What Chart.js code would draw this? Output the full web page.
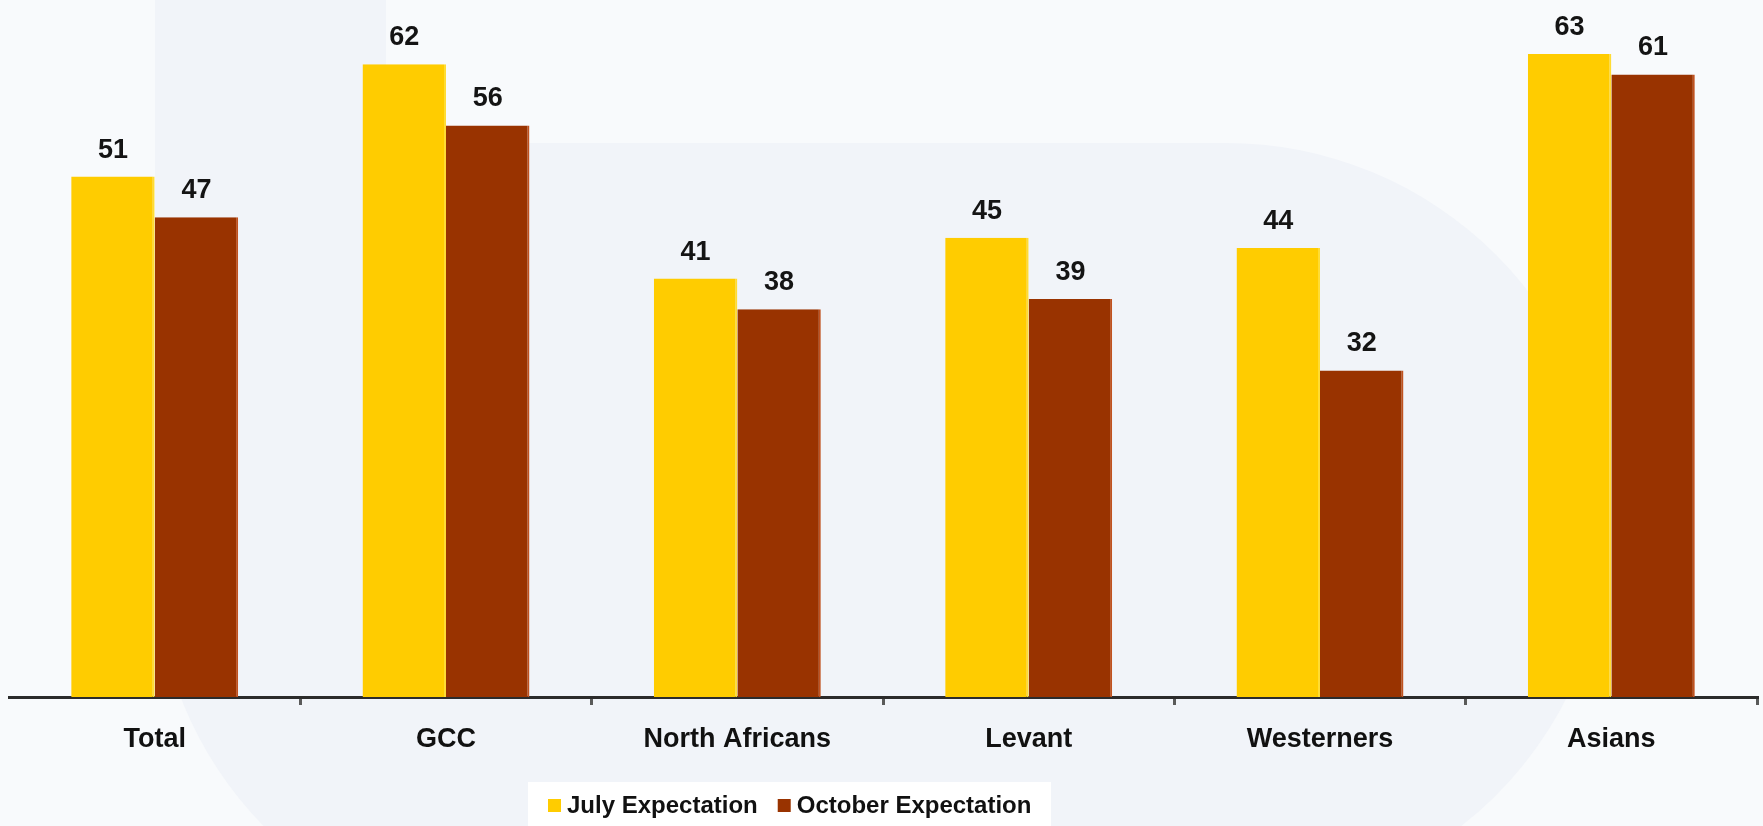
<!DOCTYPE html>
<html>
<head>
<meta charset="utf-8">
<title>July vs October Expectation</title>
<script src="https://cdn.jsdelivr.net/npm/chart.js@4"></script>
<style>
    html, body { margin: 0; padding: 0; background: #F8FAFC; }
    #verwachtingGrafiek { display: block; }
</style>
</head>
<body>
<canvas id="verwachtingGrafiek" width="1763" height="826"></canvas>
<script>
const groepen = ["Total", "GCC", "North Africans", "Levant", "Westerners", "Asians"];
const juliWaarden = [51, 62, 41, 45, 44, 63];
const oktoberWaarden = [47, 56, 38, 39, 32, 61];
const reeksNamen = ["July Expectation", "October Expectation"];

const lettertype = '"Liberation Sans", Arial, sans-serif';

// lichte achtergrond met een iets donkerder vlak erachter
const achtergrond = {
    id: "achtergrond",
    beforeDraw(chart) {
        const { ctx, width, height } = chart;
        ctx.save();
        ctx.fillStyle = "#F8FAFC";
        ctx.fillRect(0, 0, width, height);

        ctx.fillStyle = "#F1F4F9";
        ctx.beginPath();
        ctx.moveTo(155, 0);
        ctx.lineTo(386, 0);
        ctx.lineTo(386, 143);
        ctx.lineTo(1226, 143);
        ctx.arc(1226, 525, 382, -Math.PI / 2, Math.asin(301 / 382));
        ctx.lineTo(318, height);
        ctx.arc(535, 560, 380, Math.PI - Math.asin(266 / 380), Math.PI);
        ctx.closePath();
        ctx.fill();
        ctx.restore();
    }
};

// waarden boven de staven
const staafLabels = {
    id: "staafLabels",
    afterDatasetsDraw(chart) {
        const { ctx } = chart;
        ctx.save();
        ctx.font = "bold 27px " + lettertype;
        ctx.fillStyle = "#141414";
        ctx.textAlign = "center";
        ctx.textBaseline = "alphabetic";
        chart.data.datasets.forEach((ds, i) => {
            chart.getDatasetMeta(i).data.forEach((staaf, j) => {
                ctx.fillText(String(ds.data[j]), staaf.x, staaf.y - 19);
            });
        });
        ctx.restore();
    }
};

// legenda in een wit vak onder de as
const legendaVak = {
    id: "legendaVak",
    afterDraw(chart) {
        const { ctx, height } = chart;
        ctx.save();
        ctx.fillStyle = "#FFFFFF";
        ctx.fillRect(528, 782, 523, height - 782);

        ctx.font = "bold 24px " + lettertype;
        ctx.textBaseline = "middle";
        ctx.textAlign = "left";
        let x = 548;
        chart.data.datasets.forEach(ds => {
            ctx.fillStyle = ds.backgroundColor;
            ctx.fillRect(x, 799, 13, 13);
            x += 19;
            ctx.fillStyle = "#111111";
            ctx.fillText(ds.label, x, 806);
            x += ctx.measureText(ds.label).width + 20;
        });
        ctx.restore();
    }
};

new Chart(document.getElementById("verwachtingGrafiek"), {
    type: "bar",
    data: {
        labels: groepen,
        datasets: [
            {
                label: reeksNamen[0],
                data: juliWaarden,
                backgroundColor: "#FFCC00",
                borderColor: "#FFDC33",
                borderWidth: { top: 0, right: 2, bottom: 0, left: 0 },
                categoryPercentage: 0.573,
                barPercentage: 1.0,
            },
            {
                label: reeksNamen[1],
                data: oktoberWaarden,
                backgroundColor: "#993300",
                borderColor: "#C0521F",
                borderWidth: { top: 0, right: 2, bottom: 0, left: 0 },
                categoryPercentage: 0.573,
                barPercentage: 1.0,
            },
        ],
    },
    options: {
        responsive: false,
        animation: false,
        devicePixelRatio: 1,
        layout: {
            padding: { left: 9, right: 6, top: 3, bottom: 0 },
        },
        plugins: {
            legend: { display: false },
            tooltip: { enabled: false },
        },
        scales: {
            y: {
                display: false,
                min: 0,
                max: 68,
            },
            x: {
                afterFit(scale) {
                    scale.height = 129;
                },
                border: {
                    display: true,
                    color: "#2B2B2B",
                    width: 3,
                },
                grid: {
                    offset: true,
                    drawOnChartArea: false,
                    drawTicks: true,
                    tickLength: 8,
                    lineWidth: 3,
                    color: ctx => ctx.index === 0 ? "rgba(0,0,0,0)" : "#5A5A5A",
                },
                ticks: {
                    color: "#111111",
                    padding: 18,
                    font: {
                        family: lettertype,
                        size: 27,
                        weight: "bold",
                    },
                },
            },
        },
    },
    plugins: [achtergrond, staafLabels, legendaVak],
});
</script>
</body>
</html>
